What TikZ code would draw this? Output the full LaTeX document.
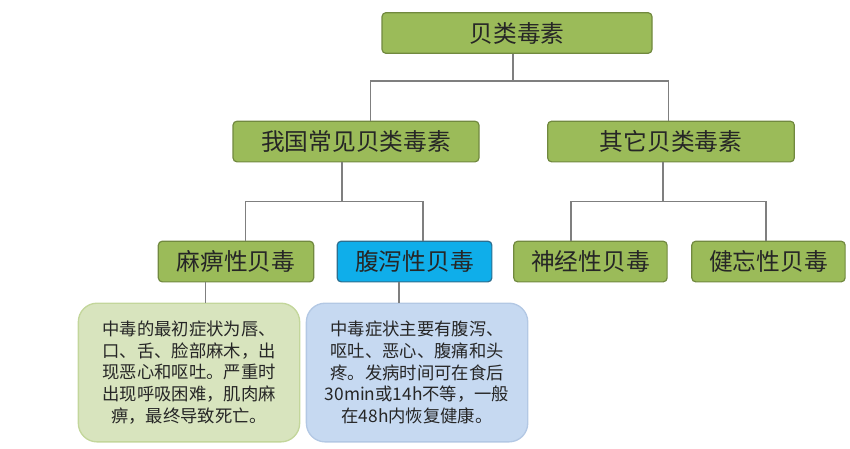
\documentclass[tikz,border=0pt]{standalone}
\usepackage{fontspec}
\newfontfamily\cjk{Noto Sans CJK SC}
\usetikzlibrary{positioning}
\definecolor{boxgreen}{HTML}{9BBB59}
\definecolor{boxgreenline}{HTML}{71893F}
\definecolor{boxblue}{HTML}{0FAEEA}
\definecolor{boxblueline}{HTML}{2C6E8F}
\definecolor{notegreen}{HTML}{D8E4BE}
\definecolor{notegreenline}{HTML}{C3D69B}
\definecolor{noteblue}{HTML}{C6D9F1}
\definecolor{noteblueline}{HTML}{B3C8E4}
\definecolor{linkgray}{HTML}{7F7F7F}
\tikzset{
    topic/.style = {rectangle, rounded corners=3pt, draw=boxgreenline, fill=boxgreen,
        line width=0.9pt, text=black!85, inner sep=0pt, minimum height=30.5pt,
        font=\cjk\fontsize{17.8}{20}\selectfont},
    hot/.style = {topic, draw=boxblueline, fill=boxblue},
    note/.style = {rectangle, rounded corners=14pt, line width=1pt, text=black!85,
        inner sep=0pt, minimum width=166pt, minimum height=104pt, align=center,
        font=\cjk\fontsize{13}{16.2}\selectfont},
    link/.style = {draw=linkgray, line width=1.1pt}}
\begin{document}
\begin{tikzpicture}[x=0.75pt, y=-0.75pt, on grid]
    \useasboundingbox (0,0) rectangle (850,449);
    \node[topic, minimum width=202.5pt] (T) at (517,33) {贝类毒素};
    \node[topic, minimum width=184.5pt] (A) [below left = 81.4pt and 120.75pt of T] {我国常见贝类毒素};
    \node[topic, minimum width=185pt] (B) [below right = 81.4pt and 115.5pt of T] {其它贝类毒素};
    \node[topic, minimum width=116.5pt] (A1) [below left = 90pt and 90pt of A] {麻痹性贝毒};
    \node[hot, minimum width=116pt] (A2) [below right = 90pt and 43.9pt of A] {腹泻性贝毒};
    \node[topic, minimum width=115pt] (B1) [below left = 90pt and 60.4pt of B] {神经性贝毒};
    \node[topic, minimum width=115pt] (B2) [below right = 90pt and 73.1pt of B] {健忘性贝毒};
    \node[note, draw=notegreenline, fill=notegreen] (D1) [below left = 83.25pt and 35.25pt of A1]
        {中毒的最初症状为唇、\\口、舌、脸部麻木，出\\现恶心和呕吐。严重时\\出现呼吸困难，肌肉麻\\痹，最终导致死亡。};
    \node[note, draw=noteblueline, fill=noteblue] (D2) [below right = 83.25pt and 1.9pt of A2]
        {中毒症状主要有腹泻、\\呕吐、恶心、腹痛和头\\疼。发病时间可在食后\\30min或14h不等，一般\\在48h内恢复健康。};
    \draw[link] ([xshift=-3pt]T.south) -- ++(0,27) coordinate (tj) -| ([xshift=11pt]A.north);
    \draw[link] (tj) -| ([xshift=-2pt]B.north);
    \draw[link] ([xshift=-10.5pt]A.south) -- ++(0,39) coordinate (aj) -| ([xshift=7pt]A1.north);
    \draw[link] (aj) -| ([xshift=6.5pt]A2.north);
    \draw[link] ([xshift=-6pt]B.south) -- ++(0,39) coordinate (bj) -| ([xshift=-14.6pt]B1.north);
    \draw[link] (bj) -| ([xshift=-2pt]B2.north);
    \draw[link] ([xshift=-23pt]A1.south) -- ([xshift=-23pt]A1.south |- D1.north);
    \draw[link] ([xshift=-11.6pt]A2.south) -- ([xshift=-11.6pt]A2.south |- D2.north);
\end{tikzpicture}
\end{document}
